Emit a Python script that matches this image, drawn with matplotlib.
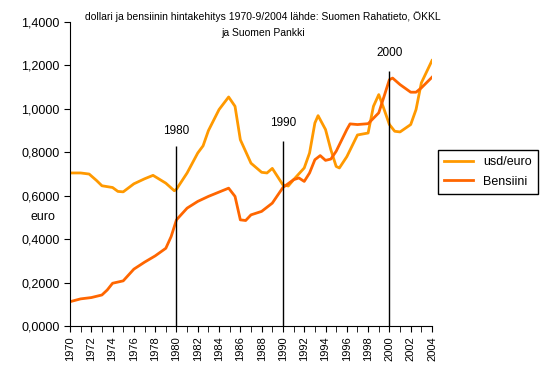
import matplotlib
matplotlib.use('Agg')
import matplotlib.pyplot as plt
from matplotlib.ticker import FuncFormatter, MultipleLocator

plt.rcParams['font.family'] = ['Liberation Sans', 'DejaVu Sans']

# usd/euro
usd_x = [1970, 1971, 1971.8, 1972.5, 1973, 1974, 1974.5, 1975, 1976, 1977, 1977.8,
         1979, 1979.8, 1980, 1981, 1982, 1982.5, 1983, 1984, 1984.9, 1985.5, 1986,
         1987, 1988, 1988.5, 1989, 1990, 1990.5, 1991, 1992, 1992.5, 1993, 1993.3,
         1994, 1994.5, 1995, 1995.3, 1996, 1997, 1998, 1998.5, 1999, 1999.4, 2000,
         2000.5, 2001, 2002, 2002.5, 2003, 2004]
usd_y = [0.705, 0.705, 0.700, 0.670, 0.646, 0.638, 0.620, 0.618, 0.655, 0.678, 0.694,
         0.658, 0.623, 0.630, 0.705, 0.797, 0.830, 0.900, 0.997, 1.055, 1.012, 0.858,
         0.750, 0.708, 0.705, 0.726, 0.650, 0.645, 0.674, 0.728, 0.797, 0.935, 0.969,
         0.905, 0.812, 0.735, 0.728, 0.780, 0.880, 0.889, 1.012, 1.066, 1.012, 0.928,
         0.897, 0.894, 0.928, 0.997, 1.120, 1.223]

# Bensiini
ben_x = [1970, 1971, 1972, 1973, 1973.5, 1974, 1975, 1976, 1977, 1978, 1979, 1979.5,
         1980, 1981, 1982, 1983, 1984, 1984.9, 1985.5, 1986, 1986.5, 1987, 1988, 1989,
         1990, 1991, 1991.5, 1992, 1992.5, 1993, 1993.5, 1994, 1994.5, 1995, 1996,
         1996.3, 1997, 1998, 1999, 1999.5, 2000, 2000.3, 2001, 2002, 2002.5, 2003, 2004]
ben_y = [0.112, 0.125, 0.131, 0.143, 0.166, 0.197, 0.208, 0.262, 0.294, 0.323, 0.358, 0.412,
         0.489, 0.543, 0.574, 0.597, 0.617, 0.635, 0.597, 0.489, 0.486, 0.512, 0.528, 0.566,
         0.638, 0.674, 0.682, 0.666, 0.705, 0.766, 0.785, 0.763, 0.769, 0.805, 0.905,
         0.931, 0.928, 0.932, 0.982, 1.058, 1.135, 1.142, 1.112, 1.077, 1.077, 1.097, 1.146]

mark_years = [1980, 1990, 2000]
mark_tops = [0.829, 0.852, 1.175]
mark_text_y = [0.90, 0.935, 1.258]

fig = plt.figure(figsize=(5.4, 3.68), dpi=100)
ax = fig.add_axes([0.1296, 0.1141, 0.8 - 0.1296, 0.940 - 0.1141])

ax.plot(usd_x, usd_y, color='#FF9900', lw=2, label='usd/euro')
ax.plot(ben_x, ben_y, color='#FF6600', lw=2, label='Bensiini')

for yr, top, ty in zip(mark_years, mark_tops, mark_text_y):
    ax.vlines(yr, 0, top, color='black', lw=1)
    ax.text(yr, ty, str(yr), ha='center', va='center', fontsize=8.5)

ax.set_xlim(1970, 2004)
ax.set_ylim(0, 1.4)
ax.xaxis.set_major_locator(MultipleLocator(2))
ax.xaxis.set_minor_locator(MultipleLocator(1))
ax.yaxis.set_major_locator(MultipleLocator(0.2))
ax.yaxis.set_major_formatter(FuncFormatter(lambda v, p: f'{v:.4f}'.replace('.', ',')))
ax.tick_params(axis='x', which='both', labelrotation=90, labelsize=8, length=4, direction='out')
ax.tick_params(axis='y', labelsize=9, length=4)
for s in ['top', 'right']:
    ax.spines[s].set_visible(False)

fig.text(263 / 540, 1 - 17 / 368,
         'dollari ja bensiinin hintakehitys 1970-9/2004 lähde: Suomen Rahatieto, ÖKKL',
         ha='center', va='center', fontsize=7.5)
fig.text(263 / 540, 1 - 33 / 368, 'ja Suomen Pankki', ha='center', va='center', fontsize=7.5)
fig.text(43 / 540, 1 - 217 / 368, 'euro', ha='center', va='center', fontsize=9)

leg = fig.legend(loc='center', bbox_to_anchor=(488 / 540, 1 - 172 / 368), fontsize=9,
                 fancybox=False, edgecolor='black', framealpha=1, handlelength=2.3,
                 borderpad=0.5, labelspacing=0.6)
leg.get_frame().set_linewidth(1)

fig.savefig('out.png', dpi=100)
